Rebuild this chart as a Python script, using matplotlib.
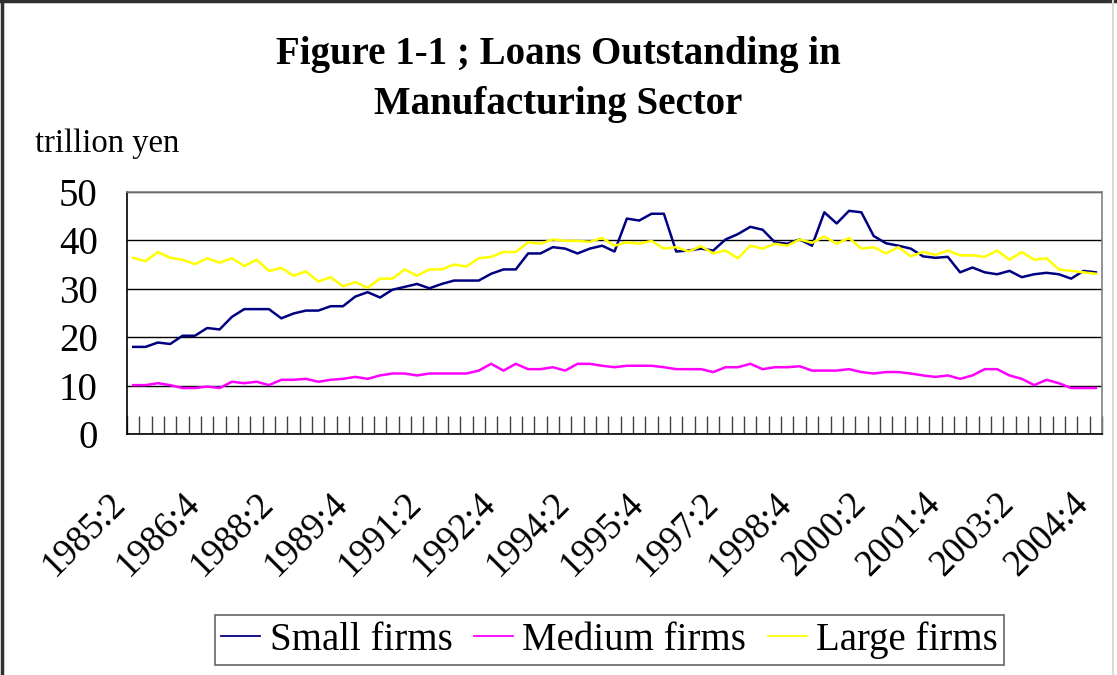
import numpy as np
import matplotlib
matplotlib.use("Agg")
import matplotlib.pyplot as plt
import matplotlib.transforms as mtransforms
from matplotlib.lines import Line2D

# quarterly data 1985:2 - 2004:4 (trillion yen)
small_firms = [
    18.0, 18.0, 18.9, 18.6, 20.3, 20.3, 21.9, 21.6, 24.2, 25.8,
    25.8, 25.8, 23.9, 24.9, 25.5, 25.5, 26.4, 26.4, 28.4, 29.3,
    28.2, 29.8, 30.4, 31.0, 30.1, 31.0, 31.7, 31.7, 31.7, 33.1,
    34.0, 34.0, 37.3, 37.3, 38.6, 38.3, 37.3, 38.3, 38.9, 37.7,
    44.5, 44.1, 45.5, 45.5, 37.7, 37.9, 38.3, 37.9, 40.2, 41.3,
    42.8, 42.2, 39.6, 39.3, 40.2, 38.9, 45.8, 43.5, 46.1, 45.8,
    40.9, 39.4, 38.9, 38.3, 36.7, 36.4, 36.6, 33.4, 34.4, 33.4,
    33.0, 33.7, 32.4, 33.0, 33.3, 33.0, 32.1, 33.7, 33.4,
]
medium_firms = [
    10.1, 10.1, 10.5, 10.1, 9.5, 9.5, 9.8, 9.5, 10.8, 10.5,
    10.8, 10.1, 11.2, 11.2, 11.4, 10.8, 11.2, 11.4, 11.8, 11.4,
    12.1, 12.5, 12.5, 12.1, 12.5, 12.5, 12.5, 12.5, 13.1, 14.5,
    13.1, 14.5, 13.4, 13.4, 13.8, 13.1, 14.5, 14.5, 14.1, 13.8,
    14.1, 14.1, 14.1, 13.8, 13.4, 13.4, 13.4, 12.8, 13.8, 13.8,
    14.5, 13.4, 13.8, 13.8, 14.0, 13.1, 13.1, 13.1, 13.4, 12.8,
    12.5, 12.8, 12.8, 12.5, 12.1, 11.8, 12.1, 11.4, 12.1, 13.4,
    13.4, 12.1, 11.4, 10.1, 11.2, 10.5, 9.5, 9.5, 9.5,
]
large_firms = [
    36.4, 35.7, 37.6, 36.4, 36.0, 35.1, 36.3, 35.4, 36.3, 34.7,
    36.0, 33.7, 34.3, 32.7, 33.6, 31.5, 32.4, 30.5, 31.4, 30.2,
    32.1, 32.1, 34.0, 32.7, 34.0, 34.0, 35.0, 34.6, 36.3, 36.6,
    37.6, 37.6, 39.6, 39.3, 40.2, 39.9, 39.9, 39.7, 40.5, 38.9,
    39.6, 39.3, 39.9, 38.3, 38.6, 37.7, 38.8, 37.3, 37.9, 36.3,
    38.9, 38.3, 39.3, 38.9, 40.2, 39.5, 40.8, 39.3, 40.5, 38.3,
    38.6, 37.3, 38.6, 36.7, 37.6, 37.0, 37.9, 36.9, 36.9, 36.6,
    37.9, 36.0, 37.6, 36.0, 36.3, 34.0, 33.7, 33.4, 33.1,
]

quarters = [f"{y}:{q}" for y in range(1985, 2005) for q in range(1, 5)][1:]
label_every = 6

plt.rcParams["font.family"] = ["Liberation Serif", "DejaVu Serif"]

fig = plt.figure(figsize=(11.17, 6.75), dpi=100)
ax = fig.add_axes([0.1137, 0.357, 0.8729, 0.3586])

x = np.arange(len(quarters))
ax.plot(x, small_firms, color="#000080", lw=1.8, label="Small firms")
ax.plot(x, medium_firms, color="#FF00FF", lw=1.8, label="Medium firms")
ax.plot(x, large_firms, color="#FFFF00", lw=1.8, label="Large firms")

ax.set_xlim(-0.5, len(quarters) - 0.5)
ax.set_ylim(0, 50)
ax.set_yticks(range(0, 51, 10))
ax.yaxis.grid(True, color="black", lw=1)
ax.set_axisbelow(True)
ax.tick_params(axis="y", length=0, pad=21, labelsize=28)

# tick marks between categories, labels every 6th quarter
ax.set_xticks(np.arange(-0.5, len(quarters)), minor=True)
ax.set_xticks([])
ax.tick_params(axis="x", which="minor", direction="in", length=13,
               width=1, color="#404040")

# rotated labels sit a bit left of / below their category (Excel style)
offset = mtransforms.ScaledTranslation(-0.25, -0.52, fig.dpi_scale_trans)
lab_tr = ax.get_xaxis_transform() + offset
for i in x[::label_every]:
    ax.text(i, 0, quarters[i], transform=lab_tr, rotation=45,
            rotation_mode="anchor", ha="right", va="top", fontsize=26.5,
            clip_on=False)

for side in ["left", "bottom"]:
    ax.spines[side].set_color("black")
    ax.spines[side].set_linewidth(1.2)
for side in ["top", "right"]:
    ax.spines[side].set_color("#808080")
    ax.spines[side].set_linewidth(1.2)

ax.text(-0.094, 1.2, "trillion yen", transform=ax.transAxes, fontsize=23.5,
        ha="left", va="center")

fig.text(0.5, 0.8826, "Figure 1-1 ; Loans Outstanding in\nManufacturing Sector",
         ha="center", va="center", fontsize=28, fontweight="bold",
         linespacing=1.47)

leg = fig.legend(loc="center", bbox_to_anchor=(0.5457, 0.0519), ncol=3,
                 fontsize=28, frameon=True, fancybox=False, edgecolor="#404040",
                 handlelength=1.0, handletextpad=0.25, columnspacing=0.55,
                 borderpad=0.15)
leg.get_frame().set_linewidth(1.2)
for h in leg.legend_handles:
    h.set_linewidth(1.3)

# outer chart border
fig.add_artist(Line2D([0.002, 0.002], [0, 1], color="#303030", lw=2.5,
                      transform=fig.transFigure))
fig.add_artist(Line2D([0, 1], [0.999, 0.999], color="#303030", lw=2.5,
                      transform=fig.transFigure))
fig.add_artist(Line2D([0.9968, 0.9968], [0, 1], color="#d8d8d8", lw=1.5,
                      transform=fig.transFigure))

fig.savefig("out.png", dpi=100)
